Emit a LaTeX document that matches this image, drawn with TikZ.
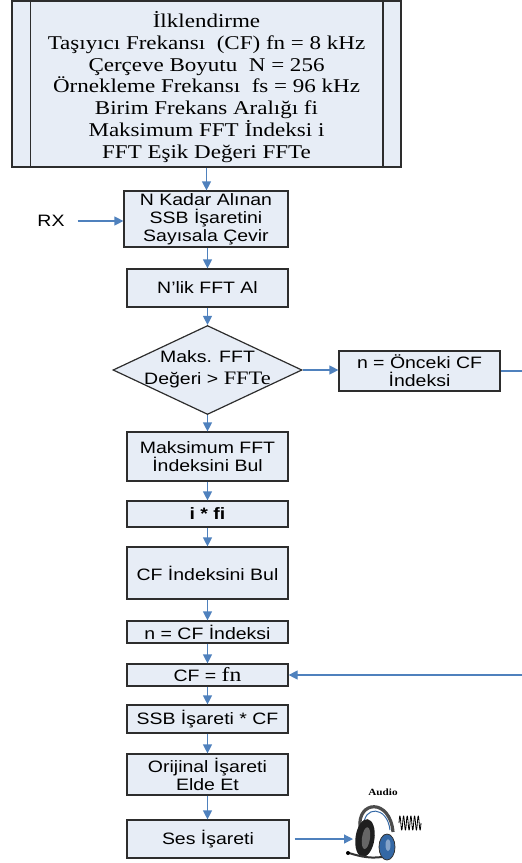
\documentclass[tikz,border=0pt]{standalone}
\usepackage{fontspec}
\newfontfamily\sansx{Liberation Sans}[FakeStretch=1.18]
\newfontfamily\serifx{Liberation Serif}[FakeStretch=1.18]
\usetikzlibrary{arrows.meta,shapes.geometric}
\definecolor{flowblue}{RGB}{79,129,189}
\definecolor{boxfill}{RGB}{231,237,246}
\definecolor{boxline}{RGB}{45,45,45}
\definecolor{cupblue}{RGB}{52,104,165}
\tikzset{
  proc/.style={draw=boxline, line width=1.2pt, fill=boxfill, inner sep=0pt,
    minimum width=161pt, align=center, font=\sansx\fontsize{16.5}{17.8}\selectfont},
  flow/.style={draw=flowblue, line width=1.2pt, -{Triangle[length=9pt,width=9pt]}},
  link/.style={draw=flowblue, line width=1.2pt},
  sanstext/.style={font=\sansx\fontsize{16.5}{17.8}\selectfont, align=center, inner sep=0pt},
}
\begin{document}
\begin{tikzpicture}[x=1pt,y=-1pt]
\useasboundingbox (0,0) rectangle (522,863);

% initialisation block (predefined process)
\node[proc, minimum width=389pt, minimum height=166pt, line width=1.5pt] (init) at (206.5,84) {};
\node[font=\serifx\fontsize{19.5}{21.7}\selectfont, align=center, inner sep=0pt] (inittext) at (206.5,87)
  {İlklendirme\\
   Taşıyıcı Frekansı\ \ (CF) fn = 8 kHz\\
   Çerçeve Boyutu\ \ N = 256\\
   Örnekleme Frekansı\ \ fs = 96 kHz\\
   Birim Frekans Aralığı fi\\
   Maksimum FFT İndeksi i\\
   FFT Eşik Değeri FFTe};
\draw[boxline, line width=1.5pt] ([xshift=19pt]init.north west) -- ([xshift=19pt]init.south west);
\draw[boxline, line width=1.5pt] ([xshift=-19pt]init.north east) -- ([xshift=-19pt]init.south east);

% main chain of process boxes
\node[proc, minimum width=164pt, minimum height=56pt] (adc) at (206,219)
  {N Kadar Alınan\\SSB İşaretini\\Sayısala Çevir};
\node[proc, minimum height=38pt] (fft) at (207.5,288) {N’lik FFT Al};
\node[draw=boxline, line width=1.2pt, fill=boxfill, diamond, inner sep=0pt,
      minimum width=189pt, minimum height=89pt] (dec) at (207.5,370) {};
\node[font=\sansx\fontsize{16.5}{22}\selectfont, align=center, inner sep=0pt] (dectext) at (207.5,369)
  {Maks. FFT\\Değeri > {\serifx\fontsize{19}{19}\selectfont FFTe}};
\node[proc, minimum height=40pt] (prev) at (419.5,371) {n = Önceki CF\\İndeksi};
\node[proc, minimum height=49pt] (maxidx) at (207.5,456.5) {Maksimum FFT\\İndeksini Bul};
\node[proc, minimum height=26pt, font=\sansx\bfseries\fontsize{16.5}{17.8}\selectfont] (mult) at (207.5,514) {i * fi};
\node[proc, minimum height=52pt] (cfidx) at (207.5,573) {CF İndeksini Bul};
\node[proc, minimum height=22pt] (nset) at (207.5,632) {n = CF İndeksi};
\node[proc, minimum height=22pt] (cfset) at (207.5,675) {CF = {\serifx\fontsize{20}{19}\selectfont fn}};
\node[proc, minimum height=28pt] (mix) at (207.5,719) {SSB İşareti * CF};
\node[proc, minimum height=41pt] (orig) at (207.5,774.5) {Orijinal İşareti\\Elde Et};
\node[proc, minimum width=162pt, minimum height=38pt] (audioout) at (208,839) {Ses İşareti};

% input label
\node[sanstext] (rx) at (51,221) {RX};

% flow arrows
\draw[flow] (init.south) -- (init.south |- adc.north);
\draw[flow] ([xshift=13pt]rx.east) -- (rx.east -| adc.west);
\draw[flow] (adc.south -| fft.north) -- (fft.north);
\draw[flow] (fft.south) -- (dec.north);
\draw[flow] (dec.east) -- (dec.east -| prev.west);
\draw[flow] (dec.south) -- (maxidx.north);
\draw[flow] (maxidx.south) -- (mult.north);
\draw[flow] (mult.south) -- (cfidx.north);
\draw[flow] (cfidx.south) -- (nset.north);
\draw[flow] (nset.south) -- (cfset.north);
\draw[flow] (cfset.south) -- (mix.north);
\draw[flow] (mix.south) -- (orig.north);
\draw[flow] (orig.south) -- (orig.south |- audioout.north);

% feedback loop running along the right edge
\coordinate (loopout) at (522,371);
\coordinate (loopin) at (522,675);
\draw[link] (prev.east) -- (loopout);
\draw[flow] (loopin) -- (cfset.east);

% output to the headphones
\coordinate (phone) at (353,839);
\draw[flow] ([xshift=5pt]audioout.east) -- (phone);

% headphone icon
\node[font=\serifx\bfseries\fontsize{9.5}{10}\selectfont, inner sep=0pt] (audiolbl) at (383,792) {Audio};
\draw[line width=3.2pt, black!70] (360,828) .. controls (357,800) and (390,798) .. (393,832);
\draw[line width=1pt, cupblue] (364,826) .. controls (363,806) and (387,805) .. (390,830);
\fill[black!88, rotate around={-8:(365,838)}] (365,838) ellipse (9.5pt and 19pt);
\fill[black!60, rotate around={-8:(365,838)}] (366,838) ellipse (4pt and 11pt);
\fill[cupblue] (387,847) ellipse (8pt and 13pt);
\draw[black!80, line width=0.8pt] (387,847) ellipse (8pt and 13pt);
\fill[cupblue!60!white] (388,845) ellipse (2.5pt and 6pt);
\draw[line width=2pt, black!80] (382,857) .. controls (367,859) and (356,855) .. (349,853);
\fill[black] (348,853) circle (2pt);
\draw[black, line width=0.8pt] plot[domain=0:2160, samples=240, smooth]
  ({399 + \x/2160*22}, {823 - 7*sin(\x)});
\end{tikzpicture}
\end{document}
